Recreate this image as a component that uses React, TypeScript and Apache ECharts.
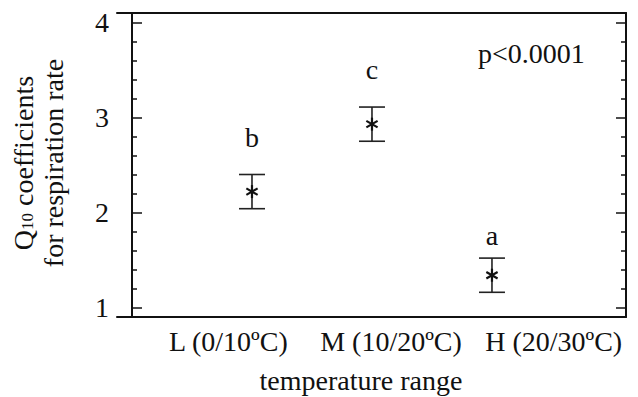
import React, { useEffect, useRef } from 'react';
import * as echarts from 'echarts';

const categories = ['L (0/10ºC)', 'M (10/20ºC)', 'H (20/30ºC)'];
const xPositions = [1, 2, 3];
const means = [2.22, 2.93, 1.34];
const lowers = [2.04, 2.75, 1.16];
const uppers = [2.4, 3.11, 1.52];
const letters = ['b', 'c', 'a'];
const letterY = [2.79, 3.505, 1.76];
const majorTicks = [1, 2, 3, 4];
const minorTicks = [1.2, 1.4, 1.6, 1.8, 2.2, 2.4, 2.6, 2.8, 3.2, 3.4, 3.6, 3.8];
const pText = 'p<0.0001';
const xTitle = 'temperature range';

const FONT = "Times New Roman, Liberation Serif, DejaVu Serif, serif";
const INK = '#111';
const FS = 28;

export default function App() {
  const ref = useRef<HTMLDivElement>(null);
  useEffect(() => {
    if (!ref.current) return;
    const chart = echarts.init(ref.current, null, { renderer: 'svg' });
    const yBase = {
      min: 0.9,
      max: 4.1,
      type: 'value' as const,
      gridIndex: 0,
      splitLine: { show: false },
    };
    const lineStyle = { color: INK, width: 2 };
    const data = xPositions.map((x, i) => [x, means[i], lowers[i], uppers[i], letterY[i]]);
    chart.setOption({
      animation: false,
      backgroundColor: '#fff',
      textStyle: { fontFamily: FONT },
      grid: [
        { left: 117, right: 12, top: 13, bottom: 80 },
        { left: 147, right: 3, top: 13, bottom: 80 },
      ],
      xAxis: [
        {
          type: 'value', gridIndex: 0, position: 'bottom', min: -0.125, max: 4.117,
          axisLine: { show: true, lineStyle }, axisTick: { show: false }, axisLabel: { show: false },
          splitLine: { show: false },
        },
        {
          type: 'value', gridIndex: 0, position: 'top', min: -0.125, max: 4.117,
          axisLine: { show: true, lineStyle }, axisTick: { show: false }, axisLabel: { show: false },
          splitLine: { show: false },
        },
        {
          type: 'category', gridIndex: 1, position: 'bottom', data: categories,
          axisLine: { show: false }, axisTick: { show: false },
          axisLabel: { show: true, color: INK, fontFamily: FONT, fontSize: FS, margin: 10, interval: 0 },
        },
      ],
      yAxis: [
        {
          ...yBase, position: 'left',
          axisLine: { show: true, lineStyle },
          axisTick: { show: true, inside: true, length: 10, customValues: majorTicks, lineStyle: { color: INK, width: 1.5 } },
          axisLabel: { show: true, customValues: majorTicks, color: INK, fontFamily: FONT, fontSize: FS, margin: 8 },
        },
        {
          ...yBase, position: 'left',
          axisLine: { show: false },
          axisTick: { show: true, inside: true, length: 5, customValues: minorTicks, lineStyle: { color: INK, width: 1.5 } },
          axisLabel: { show: false },
        },
        {
          ...yBase, position: 'right',
          axisLine: { show: true, lineStyle },
          axisTick: { show: true, inside: true, length: 10, customValues: majorTicks, lineStyle: { color: INK, width: 1.5 } },
          axisLabel: { show: false },
        },
        {
          ...yBase, position: 'right',
          axisLine: { show: false },
          axisTick: { show: true, inside: true, length: 5, customValues: minorTicks, lineStyle: { color: INK, width: 1.5 } },
          axisLabel: { show: false },
        },
        { type: 'value', gridIndex: 1, min: 0, max: 1, show: false },
      ],
      graphic: [
        {
          type: 'text', x: 478, y: 53,
          style: { text: pText, fontFamily: FONT, fontSize: FS, fill: INK, align: 'left', verticalAlign: 'middle' },
        },
        {
          type: 'text', x: 361, y: 380,
          style: { text: xTitle, fontFamily: FONT, fontSize: FS, fill: INK, align: 'center', verticalAlign: 'middle' },
        },
        {
          type: 'text', x: 38, y: 163, rotation: Math.PI / 2,
          style: {
            text: '{n|Q}{s|10}{n| coefficients}\n{n|for respiration rate}',
            fontFamily: FONT, fontSize: FS, fill: INK, align: 'center', verticalAlign: 'middle',
            rich: {
              n: { fontFamily: FONT, fontSize: FS, fill: INK, lineHeight: 30 },
              s: { fontFamily: FONT, fontSize: 17, fill: INK, lineHeight: 30, padding: [9, 0, 0, 0] },
            },
          },
        },
      ],
      series: [
        {
          type: 'custom',
          xAxisIndex: 0,
          yAxisIndex: 0,
          data,
          renderItem: (params: any, api: any) => {
            const x = api.value(0);
            const c = api.coord([x, api.value(1)]);
            const lo = api.coord([x, api.value(2)]);
            const hi = api.coord([x, api.value(3)]);
            const lt = api.coord([x, api.value(4)]);
            const hw = 13;
            const r = 6.5;
            const st = { stroke: '#222', lineWidth: 1.6 };
            const arms = [30, 90, 150].map((deg) => {
              const a = (deg * Math.PI) / 180;
              return {
                type: 'line',
                shape: {
                  x1: c[0] - r * Math.cos(a), y1: c[1] - r * Math.sin(a),
                  x2: c[0] + r * Math.cos(a), y2: c[1] + r * Math.sin(a),
                },
                style: { stroke: INK, lineWidth: 2.2 },
              };
            });
            return {
              type: 'group',
              children: [
                { type: 'line', shape: { x1: lo[0], y1: lo[1], x2: hi[0], y2: hi[1] }, style: st },
                { type: 'line', shape: { x1: hi[0] - hw, y1: hi[1], x2: hi[0] + hw, y2: hi[1] }, style: st },
                { type: 'line', shape: { x1: lo[0] - hw, y1: lo[1], x2: lo[0] + hw, y2: lo[1] }, style: st },
                ...arms,
                {
                  type: 'text', x: lt[0], y: lt[1],
                  style: {
                    text: letters[params.dataIndex], fontFamily: FONT, fontSize: FS, fill: INK,
                    align: 'center', verticalAlign: 'middle',
                  },
                },
              ],
            };
          },
        },
        { type: 'scatter', xAxisIndex: 2, yAxisIndex: 4, data: [] },
      ],
    });
    return () => chart.dispose();
  }, []);
  return <div ref={ref} style={{ width: 638, height: 397, position: 'absolute', left: 0, top: 0 }} />;
}
